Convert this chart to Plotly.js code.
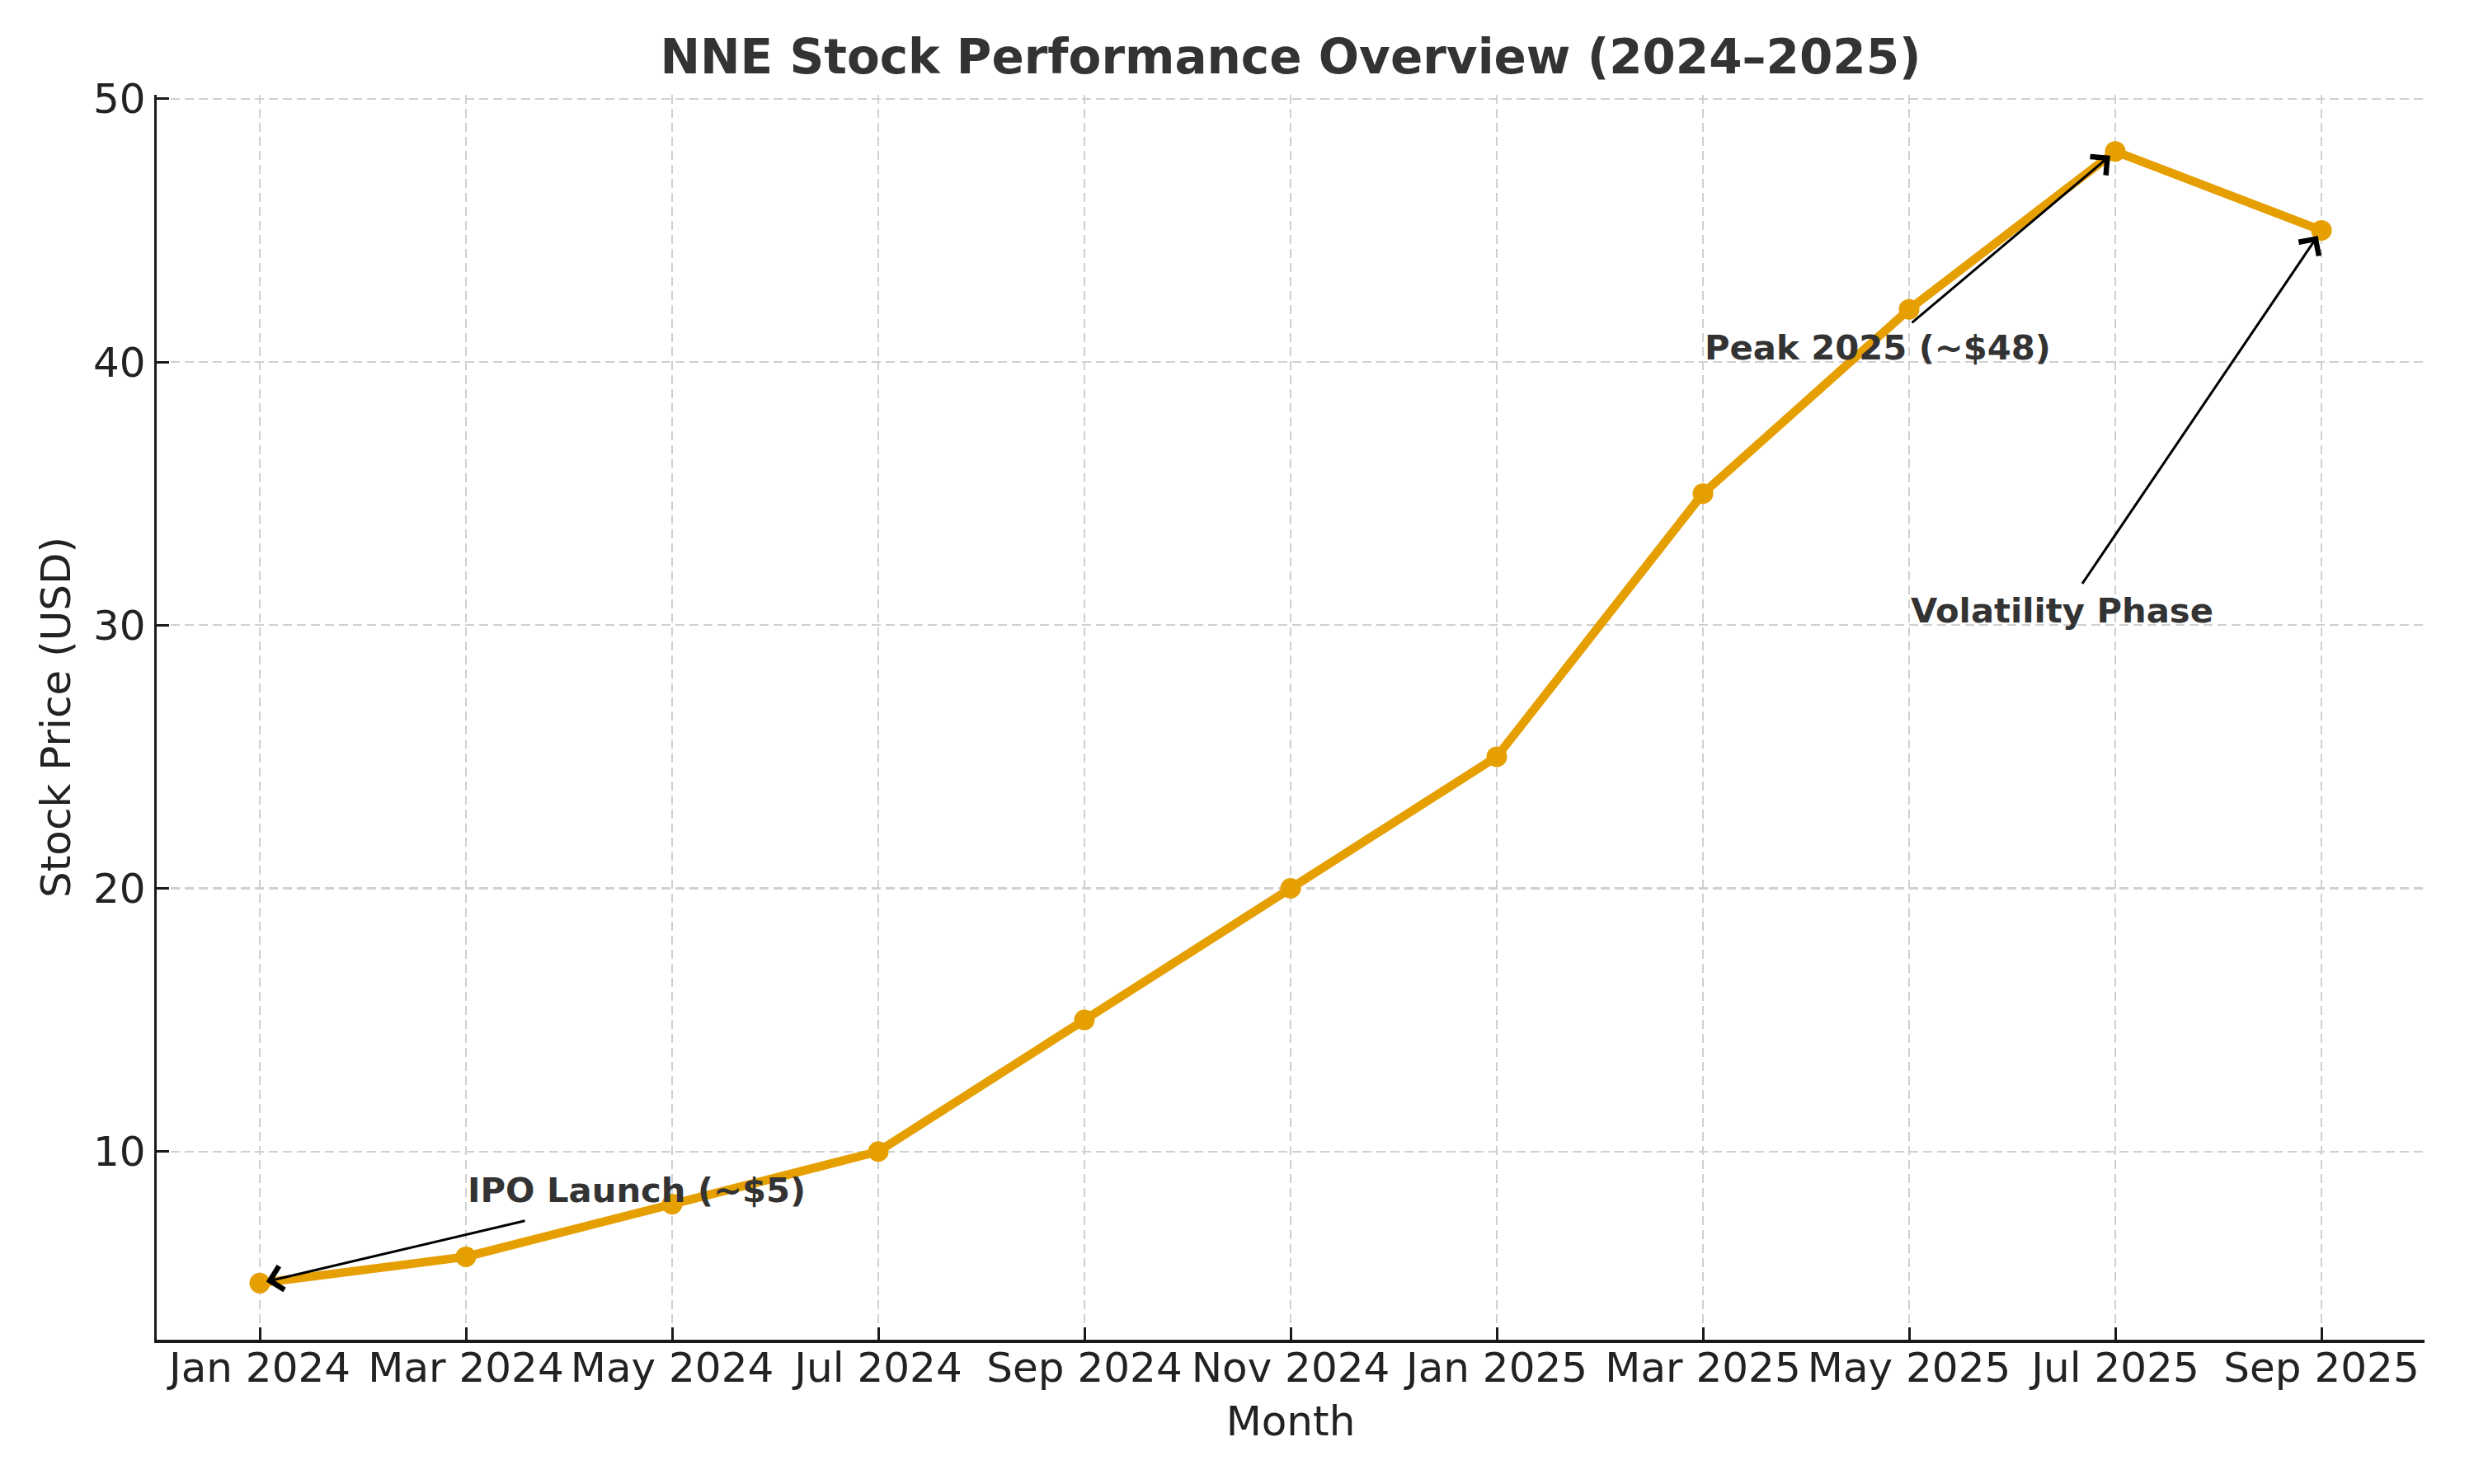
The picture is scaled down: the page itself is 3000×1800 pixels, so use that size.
<!DOCTYPE html>
<html>
<head>
<meta charset="utf-8">
<script src="https://cdn.plot.ly/plotly-3.0.1.min.js"></script>
<style>html,body{margin:0;padding:0;background:#fff;}#chart{width:3000px;height:1800px;}</style>
</head>
<body>
<div id="chart"></div>
<script>
const months = ["Jan 2024","Mar 2024","May 2024","Jul 2024","Sep 2024","Nov 2024","Jan 2025","Mar 2025","May 2025","Jul 2025","Sep 2025"];
const prices = [5, 6, 8, 10, 15, 20, 25, 35, 42, 48, 45];
const yTicks = [10, 20, 30, 40, 50];

const annTexts = ["IPO Launch (~$5)", "Peak 2025 (~$48)", "Volatility Phase"];
const annTargets = [0, 9, 10];          // index of the point each arrow points to
const annTextPos = [[1, 8], [7, 40], [8, 30]]; // text anchor (category index, value)

const FONT = "DejaVu Sans, Liberation Sans, sans-serif";
const ORANGE = "#E69F00";

const trace = {
  x: months, y: prices, type: "scatter", mode: "lines+markers",
  line: {color: ORANGE, width: 10.5},
  marker: {color: ORANGE, size: 25},
  cliponaxis: false, hoverinfo: "skip"
};

const annotations = [];
const arrowOffsets = [[323, -76], [-248, 209], [-291, 430]];
for (let i = 0; i < annTexts.length; i++) {
  annotations.push({
    x: months[annTextPos[i][0]], y: annTextPos[i][1], xref: "x", yref: "y",
    text: "<b>" + annTexts[i] + "</b>", showarrow: false,
    xanchor: "left", yanchor: "bottom", yshift: -9,
    font: {family: FONT, size: 41.7, color: "#333333"}
  });
  annotations.push({
    x: months[annTargets[i]], y: prices[annTargets[i]], xref: "x", yref: "y",
    text: "", showarrow: true, ax: arrowOffsets[i][0], ay: arrowOffsets[i][1],
    axref: "pixel", ayref: "pixel",
    arrowhead: 4, arrowsize: 1.9, arrowwidth: 3, arrowcolor: "#000000", standoff: 8
  });
}

const layout = {
  width: 3000, height: 1800,
  paper_bgcolor: "#ffffff", plot_bgcolor: "#ffffff",
  margin: {l: 190, r: 60, t: 115, b: 175, pad: 0},
  showlegend: false,
  font: {family: FONT, color: "#222222", size: 50},
  title: {
    text: "<b>NNE Stock Performance Overview (2024–2025)</b>",
    font: {family: FONT, size: 58, color: "#333333"},
    x: 0.5, xref: "paper", xanchor: "center", y: 0.9617, yanchor: "middle"
  },
  xaxis: {
    type: "category", categoryorder: "array", categoryarray: months,
    range: [-0.5, 10.5], fixedrange: true,
    showline: true, linecolor: "#1a1a1a", linewidth: 3.5, mirror: false,
    ticks: "inside", ticklen: 15, tickwidth: 3, tickcolor: "#1a1a1a",
    ticklabelstandoff: -13,
    tickfont: {family: FONT, size: 50, color: "#222222"},
    showgrid: true, gridcolor: "#d0d0d0", gridwidth: 2.2, griddash: "11px,6px",
    zeroline: false, automargin: false,
    title: {text: "Month", font: {family: FONT, size: 50, color: "#222222"}, standoff: 20}
  },
  yaxis: {
    range: [2.85, 50.15], tickvals: yTicks, ticktext: yTicks.map(String), fixedrange: true,
    showline: true, linecolor: "#1a1a1a", linewidth: 3.5, mirror: false,
    ticks: "inside", ticklen: 15, tickwidth: 3, tickcolor: "#1a1a1a",
    tickfont: {family: FONT, size: 50, color: "#222222"},
    showgrid: true, gridcolor: "#d0d0d0", gridwidth: 2.2, griddash: "11px,6px",
    zeroline: false, automargin: false,
    title: {text: "Stock Price (USD)", font: {family: FONT, size: 50, color: "#222222"}, standoff: 12}
  },
  annotations: annotations
};

Plotly.newPlot("chart", [trace], layout, {staticPlot: true, displayModeBar: false});
</script>
</body>
</html>
